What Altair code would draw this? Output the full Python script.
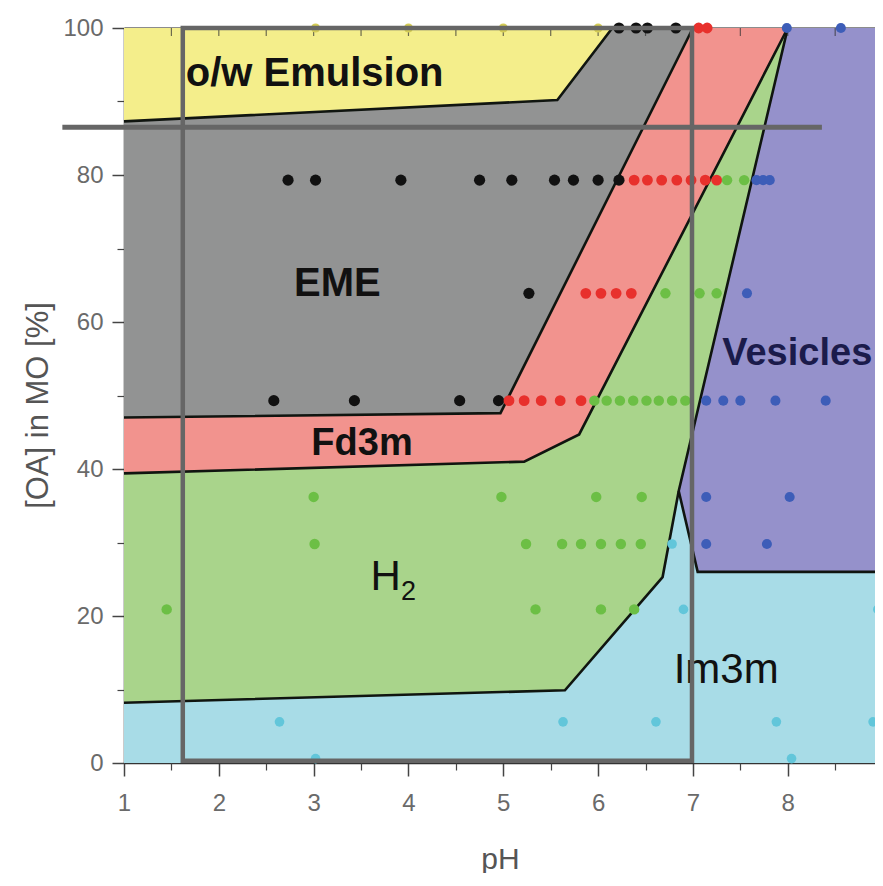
import altair as alt
import pandas as pd

FONT = "Liberation Sans, Arial, sans-serif"

# ---------------- phase regions (pH, [OA] in MO %) ----------------
region_names = ["o/w Emulsion", "EME", "Fd3m", "H2", "Im3m", "Vesicles"]
region_colors = ["#F4EE8B", "#929393", "#F2938E", "#A9D48B", "#A8DCE7", "#9591CB"]

emulsion_x = [1.0, 6.15, 5.57, 1.0]
emulsion_y = [100.0, 100.0, 90.2, 87.3]
eme_x = [1.0, 5.57, 6.15, 7.0, 4.97, 1.0]
eme_y = [87.3, 90.2, 100.0, 100.0, 47.6, 47.0]
fd3m_x = [1.0, 4.97, 7.0, 8.0, 5.8, 5.22, 1.0]
fd3m_y = [47.0, 47.6, 100.0, 100.0, 44.7, 41.0, 39.4]
h2_x = [1.0, 5.22, 5.8, 8.0, 6.85, 6.68, 5.65, 1.0]
h2_y = [39.4, 41.0, 44.7, 100.0, 37.0, 25.3, 9.9, 8.2]
im3m_x = [1.0, 5.65, 6.68, 6.85, 7.05, 9.0, 9.0, 1.0]
im3m_y = [8.2, 9.9, 25.3, 37.0, 26.0, 26.0, 0.0, 0.0]
ves_x = [6.85, 8.0, 9.0, 9.0, 7.05]
ves_y = [37.0, 100.0, 100.0, 26.0, 26.0]

# ---------------- phase boundary lines ----------------
b1_x = [1.0, 5.57, 6.15]
b1_y = [87.3, 90.2, 100.0]
b2_x = [1.0, 4.97, 7.0]
b2_y = [47.0, 47.6, 100.0]
b3_x = [1.0, 5.22, 5.8, 8.0]
b3_y = [39.4, 41.0, 44.7, 100.0]
b4_x = [1.0, 5.65, 6.68, 6.85, 8.0]
b4_y = [8.2, 9.9, 25.3, 37.0, 100.0]
b5_x = [6.85, 7.05, 9.0]
b5_y = [37.0, 26.0, 26.0]

# ---------------- measured samples ----------------
black_x = [6.22, 6.40, 6.52, 6.82,
           2.73, 3.02, 3.92, 4.75, 5.09, 5.54, 5.74, 6.00, 6.22,
           5.27,
           2.58, 3.43, 4.54, 4.95]
black_y = [100, 100, 100, 100,
           79.3, 79.3, 79.3, 79.3, 79.3, 79.3, 79.3, 79.3, 79.3,
           63.9,
           49.3, 49.3, 49.3, 49.3]
red_x = [7.06, 7.15,
         6.38, 6.52, 6.67, 6.83, 6.98, 7.13, 7.25,
         5.87, 6.03, 6.19, 6.35,
         5.06, 5.22, 5.40, 5.60, 5.82]
red_y = [100, 100,
         79.3, 79.3, 79.3, 79.3, 79.3, 79.3, 79.3,
         63.9, 63.9, 63.9, 63.9,
         49.3, 49.3, 49.3, 49.3, 49.3]
green_x = [7.36, 7.54,
           6.71, 7.07, 7.25,
           5.96, 6.09, 6.23, 6.37, 6.51, 6.64, 6.78, 6.92,
           3.00, 4.98, 5.98, 6.46,
           3.01, 5.24, 5.62, 5.82, 6.03, 6.24, 6.45,
           1.45, 5.34, 6.03, 6.38]
green_y = [79.3, 79.3,
           63.9, 63.9, 63.9,
           49.3, 49.3, 49.3, 49.3, 49.3, 49.3, 49.3, 49.3,
           36.2, 36.2, 36.2, 36.2,
           29.8, 29.8, 29.8, 29.8, 29.8, 29.8, 29.8,
           20.9, 20.9, 20.9, 20.9]
blue_x = [7.99, 8.56,
          7.67, 7.74, 7.81,
          7.57,
          7.14, 7.32, 7.50, 7.87, 8.40,
          7.14, 8.02,
          7.14, 7.78]
blue_y = [100, 100,
          79.3, 79.3, 79.3,
          63.9,
          49.3, 49.3, 49.3, 49.3, 49.3,
          36.2, 36.2,
          29.8, 29.8]
cyan_x = [6.78, 6.90, 8.95, 2.64, 5.63, 6.61, 7.88, 8.90, 3.02, 8.04]
cyan_y = [29.8, 20.9, 20.9, 5.6, 5.6, 5.6, 5.6, 5.6, 0.6, 0.6]
yellow_x = [3.02, 4.00, 5.00, 6.00]
yellow_y = [100, 100, 100, 100]

dot_phases = ["EME pts", "Fd3m pts", "H2 pts", "Vesicle pts", "Im3m pts", "Emulsion pts"]
dot_colors = ["#111111", "#E8302C", "#6CBF45", "#3D5DB8", "#62C6DA", "#D4CC55"]
dot_sizes = [125, 85, 85, 85, 85, 65]

# ---------------- region labels ----------------
label_text = ["o/w Emulsion", "EME", "Fd3m", "H", "2", "Im3m", "Vesicles"]
label_x = [3.01, 3.25, 3.51, 3.76, 4.00, 7.35, 8.10]
label_y = [92.1, 63.5, 41.9, 23.5, 22.2, 10.9, 54.1]

# ---------------- overlay marks (grey frame and line) ----------------
frame_x, frame_x2 = [1.62], [6.99]
frame_y, frame_y2 = [0.3], [100.0]
hline_x, hline_x2, hline_y = [0.35], [8.36], [86.5]

x_major = [1, 2, 3, 4, 5, 6, 7, 8, 9]
x_minor = [1.5, 2.5, 3.5, 4.5, 5.5, 6.5, 7.5, 8.5]
y_major = [0, 20, 40, 60, 80, 100]
y_minor = [10, 30, 50, 70, 90]
top_ticks = x_minor + x_major[1:-1]

# ---------------- build tables ----------------
poly_rows = []
for name, xs, ys in zip(region_names,
                        [emulsion_x, eme_x, fd3m_x, h2_x, im3m_x, ves_x],
                        [emulsion_y, eme_y, fd3m_y, h2_y, im3m_y, ves_y]):
    for i, (xv, yv) in enumerate(zip(xs, ys)):
        poly_rows.append({"region": name, "i": i, "x": xv, "y": yv})
poly_df = pd.DataFrame(poly_rows)

bnd_rows = []
for k, (xs, ys) in enumerate([(b1_x, b1_y), (b2_x, b2_y), (b3_x, b3_y), (b4_x, b4_y), (b5_x, b5_y)]):
    for i, (xv, yv) in enumerate(zip(xs, ys)):
        bnd_rows.append({"b": f"b{k}", "i": i, "x": xv, "y": yv})
bnd_df = pd.DataFrame(bnd_rows)

dot_rows = []
for ph, xs, ys in zip(dot_phases,
                      [black_x, red_x, green_x, blue_x, cyan_x, yellow_x],
                      [black_y, red_y, green_y, blue_y, cyan_y, yellow_y]):
    for xv, yv in zip(xs, ys):
        dot_rows.append({"phase": ph, "x": xv, "y": yv})
dot_df = pd.DataFrame(dot_rows)

xs_ = alt.Scale(domain=[1, 8.92], nice=False, zero=False)
ys_ = alt.Scale(domain=[0, 100], nice=False, zero=False)

x_axis_major = alt.Axis(orient="bottom", values=x_major, format="d", grid=False,
                        tickSize=13, tickWidth=1.5, tickColor="#444444",
                        domainColor="#333333", domainWidth=1.5,
                        labelFont=FONT, labelFontSize=24, labelColor="#6a6a6a",
                        labelBaseline="alphabetic", labelPadding=34,
                        labelFlush=False, labelOverlap=False,
                        title="pH", titleFont=FONT, titleFontSize=30,
                        titleFontWeight="normal", titleColor="#555555",
                        titleX=376, titleY=105, titleBaseline="alphabetic",
                        titleAlign="center")
y_axis_major = alt.Axis(orient="left", values=y_major, format="d", grid=False,
                        tickSize=12, tickWidth=1.5, tickColor="#444444",
                        domainColor="#333333", domainWidth=1.5,
                        labelFont=FONT, labelFontSize=24, labelColor="#6a6a6a",
                        labelPadding=9, labelFlush=False, labelOverlap=False,
                        title="[OA] in MO [%]", titleFont=FONT, titleFontSize=31,
                        titleFontWeight="normal", titleColor="#555555",
                        titleAngle=270, titleX=-86, titleY=377,
                        titleBaseline="middle", titleAlign="center")
x_axis_minor = alt.Axis(orient="bottom", values=x_minor, grid=False, labels=False,
                        domain=False, tickSize=7, tickWidth=1.2, tickColor="#444444",
                        title=None)
y_axis_minor = alt.Axis(orient="left", values=y_minor, grid=False, labels=False,
                        domain=False, tickSize=7, tickWidth=1.2, tickColor="#444444",
                        title=None)
x_axis_top = alt.Axis(orient="top", grid=False, labels=False, ticks=False,
                      domain=True, domainColor="#1a1a1a", domainWidth=2, title=None)

polys = alt.Chart(poly_df).mark_line(filled=True, interpolate="linear-closed",
                                     strokeWidth=0).encode(
    x=alt.X("x:Q", scale=xs_, axis=x_axis_major),
    y=alt.Y("y:Q", scale=ys_, axis=y_axis_major),
    color=alt.Color("region:N", scale=alt.Scale(domain=region_names, range=region_colors),
                    legend=None),
    order=alt.Order("i:Q"),
)

bounds = alt.Chart(bnd_df).mark_line(color="#101510", strokeWidth=2.6).encode(
    x=alt.X("x:Q", scale=xs_, axis=x_axis_minor),
    y=alt.Y("y:Q", scale=ys_, axis=y_axis_minor),
    detail="b:N",
    order=alt.Order("i:Q"),
)

dots = alt.Chart(dot_df).mark_circle(opacity=1).encode(
    x=alt.X("x:Q", scale=xs_, axis=None),
    y=alt.Y("y:Q", scale=ys_, axis=None),
    color=alt.Color("phase:N", scale=alt.Scale(domain=dot_phases, range=dot_colors),
                    legend=None),
    size=alt.Size("phase:N", scale=alt.Scale(domain=dot_phases, range=dot_sizes),
                  legend=None),
)

label_styles = {
    "o/w Emulsion": (40, "bold", "#111111"),
    "EME": (40, "bold", "#111111"),
    "Fd3m": (38, "bold", "#111111"),
    "H": (42, "normal", "#111111"),
    "2": (27, "normal", "#111111"),
    "Im3m": (42, "normal", "#111111"),
    "Vesicles": (38, "bold", "#1B1B4B"),
}
label_layers = []
for t, lx, ly in zip(label_text, label_x, label_y):
    fs, fw, col = label_styles[t]
    label_layers.append(
        alt.Chart(pd.DataFrame({"t": [t], "x": [lx], "y": [ly]})).mark_text(
            font=FONT, fontSize=fs, fontWeight=fw, color=col,
            align="center", baseline="alphabetic").encode(
            x=alt.X("x:Q", scale=xs_, axis=None),
            y=alt.Y("y:Q", scale=ys_, axis=None),
            text="t:N")
    )

top_tick_layer = alt.Chart(pd.DataFrame({"x": top_ticks, "y": [100] * len(top_ticks)})).mark_tick(
    orient="vertical", size=8, thickness=1.2, color="#333333", yOffset=4).encode(
    x=alt.X("x:Q", scale=xs_, axis=x_axis_top),
    y=alt.Y("y:Q", scale=ys_, axis=None),
)

frame = alt.Chart(pd.DataFrame({"x": frame_x, "x2": frame_x2, "y": frame_y, "y2": frame_y2})).mark_rect(
    filled=False, color="#666666", strokeWidth=4.5).encode(
    x=alt.X("x:Q", scale=xs_, axis=None), x2="x2:Q",
    y=alt.Y("y:Q", scale=ys_, axis=None), y2="y2:Q",
)

hline = alt.Chart(pd.DataFrame({"x": hline_x, "x2": hline_x2, "y": hline_y})).mark_rule(
    color="#666666", strokeWidth=5).encode(
    x=alt.X("x:Q", scale=xs_, axis=None), x2="x2:Q",
    y=alt.Y("y:Q", scale=ys_, axis=None),
)

chart = alt.layer(polys, bounds, top_tick_layer, dots, *label_layers, frame, hline).resolve_axis(
    x="independent", y="independent"
).resolve_scale(
    color="independent", size="independent"
).properties(
    width=751, height=735,
    padding={"left": 116, "top": 20, "right": 0, "bottom": 110},
    autosize=alt.AutoSizeParams(type="none"),
    background="white",
).configure_view(strokeWidth=0)

chart.save("out.html", embed_options={"renderer": "svg", "actions": False})
